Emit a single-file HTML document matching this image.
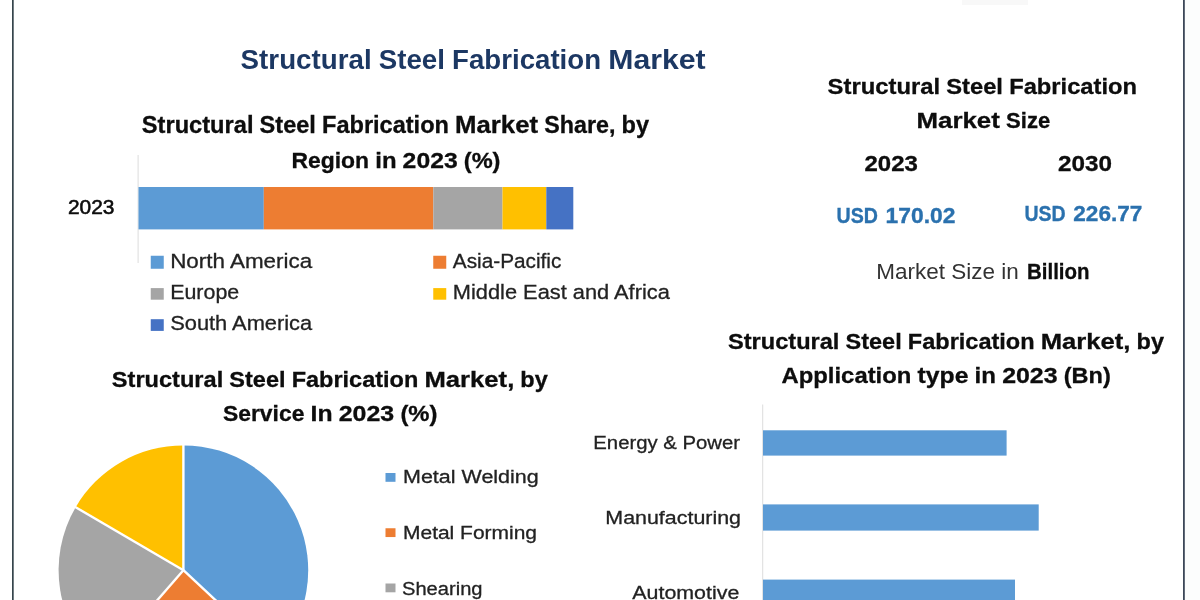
<!DOCTYPE html>
<html>
<head>
<meta charset="utf-8">
<title>Structural Steel Fabrication Market</title>
<style>
html,body{margin:0;padding:0;background:#ffffff;}
body{width:1200px;height:600px;overflow:hidden;position:relative;font-family:"Liberation Sans",sans-serif;}
svg{position:absolute;left:0;top:0;display:block;}
text{font-family:"Liberation Sans",sans-serif;}
.b{font-weight:bold;}
.k{fill:#0a0a0a;}
.b.k{stroke:#0a0a0a;stroke-width:0.3px;}
.u{fill:#2b71ae;stroke:#2b71ae;stroke-width:0.35px;}
.lg{fill:#222222;stroke:#222222;stroke-width:0.3px;}
</style>
</head>
<body>
<svg width="1200" height="600" viewBox="0 0 1200 600">
  <defs><filter id="soft" x="-2%" y="-2%" width="104%" height="104%"><feGaussianBlur stdDeviation="0.45"/></filter></defs>
  <rect x="0" y="0" width="1200" height="600" fill="#ffffff"/>
  <g filter="url(#soft)">
  <rect x="-10" y="-10" width="1220" height="620" fill="#ffffff"/>
  <!-- right margin tint -->
  <rect x="1185" y="-10" width="25" height="620" fill="#fcfdfd"/>
  <rect x="962" y="-2" width="66" height="7" fill="#f6f6f6" opacity="0.8"/>
  <!-- frame lines -->

  <!-- main title -->
  <text class="b" fill="#1f3864" x="240.60" y="69.4" font-size="27.6" textLength="131.03" lengthAdjust="spacingAndGlyphs">Structural</text>
  <text class="b" fill="#1f3864" x="378.84" y="69.4" font-size="27.6" textLength="66.05" lengthAdjust="spacingAndGlyphs">Steel</text>
  <text class="b" fill="#1f3864" x="452.10" y="69.4" font-size="27.6" textLength="148.94" lengthAdjust="spacingAndGlyphs">Fabrication</text>
  <text class="b" fill="#1f3864" x="608.24" y="69.4" font-size="27.6" textLength="97.36" lengthAdjust="spacingAndGlyphs">Market</text>

  <!-- region chart title -->
  <text class="b k" x="141.80" y="133.2" font-size="23.2" textLength="111.66" lengthAdjust="spacingAndGlyphs">Structural</text>
  <text class="b k" x="259.61" y="133.2" font-size="23.2" textLength="56.28" lengthAdjust="spacingAndGlyphs">Steel</text>
  <text class="b k" x="322.03" y="133.2" font-size="23.2" textLength="126.92" lengthAdjust="spacingAndGlyphs">Fabrication</text>
  <text class="b k" x="455.10" y="133.2" font-size="23.2" textLength="82.97" lengthAdjust="spacingAndGlyphs">Market</text>
  <text class="b k" x="544.21" y="133.2" font-size="23.2" textLength="71.18" lengthAdjust="spacingAndGlyphs">Share,</text>
  <text class="b k" x="621.54" y="133.2" font-size="23.2" textLength="27.46" lengthAdjust="spacingAndGlyphs">by</text>
  <text class="b k" x="291.50" y="168.4" font-size="22.9" textLength="77.61" lengthAdjust="spacingAndGlyphs">Region</text>
  <text class="b k" x="375.25" y="168.4" font-size="22.9" textLength="21.24" lengthAdjust="spacingAndGlyphs">in</text>
  <text class="b k" x="402.63" y="168.4" font-size="22.9" textLength="55.02" lengthAdjust="spacingAndGlyphs">2023</text>
  <text class="b k" x="463.78" y="168.4" font-size="22.9" textLength="36.72" lengthAdjust="spacingAndGlyphs">(%)</text>

  <!-- region axis -->
  <rect x="137.6" y="155" width="1" height="108" fill="#dcdcdc"/>
  <text class="k" x="68" y="213.9" font-size="20" textLength="46.5" lengthAdjust="spacingAndGlyphs" stroke="#0d0d0d" stroke-width="0.55">2023</text>

  <!-- stacked bar -->
  <rect x="138.5" y="187" width="125.3" height="42.4" fill="#5b9bd5"/>
  <rect x="263.8" y="187" width="169.5" height="42.4" fill="#ed7d31"/>
  <rect x="433.3" y="187" width="69.2" height="42.4" fill="#a5a5a5"/>
  <rect x="502.5" y="187" width="43.8" height="42.4" fill="#ffc000"/>
  <rect x="546.3" y="187" width="27" height="42.4" fill="#4472c4"/>

  <!-- region legend -->
  <rect x="150.75" y="255.75" width="13" height="13" fill="#5b9bd5"/>
  <text class="lg" x="170.2" y="268.2" font-size="20.5" textLength="142" lengthAdjust="spacingAndGlyphs">North America</text>
  <rect x="150.75" y="288.1" width="13" height="11.6" fill="#a5a5a5"/>
  <text class="lg" x="170.2" y="299.4" font-size="20.5" textLength="69" lengthAdjust="spacingAndGlyphs">Europe</text>
  <rect x="150.75" y="319.2" width="13" height="11.7" fill="#4472c4"/>
  <text class="lg" x="170.2" y="330.3" font-size="20.5" textLength="142" lengthAdjust="spacingAndGlyphs">South America</text>
  <rect x="433.25" y="255.75" width="13" height="13" fill="#ed7d31"/>
  <text class="lg" x="452.8" y="268.2" font-size="20.5" textLength="108.6" lengthAdjust="spacingAndGlyphs">Asia-Pacific</text>
  <rect x="433.25" y="288.1" width="13" height="11.6" fill="#ffc000"/>
  <text class="lg" x="452.8" y="299.4" font-size="20.5" textLength="217" lengthAdjust="spacingAndGlyphs">Middle East and Africa</text>

  <!-- pie title -->
  <text class="b k" x="111.80" y="386.8" font-size="22.9" textLength="111.44" lengthAdjust="spacingAndGlyphs">Structural</text>
  <text class="b k" x="229.37" y="386.8" font-size="22.9" textLength="56.17" lengthAdjust="spacingAndGlyphs">Steel</text>
  <text class="b k" x="291.67" y="386.8" font-size="22.9" textLength="126.67" lengthAdjust="spacingAndGlyphs">Fabrication</text>
  <text class="b k" x="424.47" y="386.8" font-size="22.9" textLength="89.79" lengthAdjust="spacingAndGlyphs">Market,</text>
  <text class="b k" x="520.39" y="386.8" font-size="22.9" textLength="27.41" lengthAdjust="spacingAndGlyphs">by</text>
  <text class="b k" x="223.00" y="421.0" font-size="22.9" textLength="81.35" lengthAdjust="spacingAndGlyphs">Service</text>
  <text class="b k" x="310.54" y="421.0" font-size="22.9" textLength="22.01" lengthAdjust="spacingAndGlyphs">In</text>
  <text class="b k" x="338.74" y="421.0" font-size="22.9" textLength="55.52" lengthAdjust="spacingAndGlyphs">2023</text>
  <text class="b k" x="400.45" y="421.0" font-size="22.9" textLength="37.05" lengthAdjust="spacingAndGlyphs">(%)</text>

  <!-- pie -->
  <g id="pie">
    <path d="M183.40,570.20 L183.40,445.40 A124.80,124.80 0 0 1 274.67,655.31 Z" fill="#5b9bd5"/>
    <path d="M183.40,570.20 L274.67,655.31 A124.80,124.80 0 0 1 101.52,664.39 Z" fill="#ed7d31"/>
    <path d="M183.40,570.20 L101.52,664.39 A124.80,124.80 0 0 1 75.65,507.23 Z" fill="#a5a5a5"/>
    <path d="M183.40,570.20 L75.65,507.23 A124.80,124.80 0 0 1 183.40,445.40 Z" fill="#ffc000"/>
    <g stroke="#ffffff" stroke-width="2.4">
      <line x1="183.40" y1="570.20" x2="183.40" y2="443.90"/>
      <line x1="183.40" y1="570.20" x2="275.77" y2="656.34"/>
      <line x1="183.40" y1="570.20" x2="100.54" y2="665.52"/>
      <line x1="183.40" y1="570.20" x2="74.35" y2="506.48"/>
    </g>
  </g>

  <!-- pie legend -->
  <rect x="385.5" y="473" width="10" height="8.8" fill="#5b9bd5"/>
  <text class="lg" x="403" y="483" font-size="18.8" textLength="135.75" lengthAdjust="spacingAndGlyphs">Metal Welding</text>
  <rect x="385.5" y="528.25" width="10" height="8.8" fill="#ed7d31"/>
  <text class="lg" x="403" y="539.25" font-size="18.8" textLength="134" lengthAdjust="spacingAndGlyphs">Metal Forming</text>
  <rect x="385.5" y="583.5" width="10" height="8.8" fill="#a5a5a5"/>
  <text class="lg" x="402" y="594.5" font-size="18.8" textLength="80.5" lengthAdjust="spacingAndGlyphs">Shearing</text>

  <!-- market size -->
  <text class="b k" x="827.60" y="93.7" font-size="22.9" textLength="112.48" lengthAdjust="spacingAndGlyphs">Structural</text>
  <text class="b k" x="946.27" y="93.7" font-size="22.9" textLength="56.69" lengthAdjust="spacingAndGlyphs">Steel</text>
  <text class="b k" x="1009.15" y="93.7" font-size="22.9" textLength="127.85" lengthAdjust="spacingAndGlyphs">Fabrication</text>
  <text class="b k" x="916.50" y="128.3" font-size="22.9" textLength="83.37" lengthAdjust="spacingAndGlyphs">Market</text>
  <text class="b k" x="1006.04" y="128.3" font-size="22.9" textLength="44.16" lengthAdjust="spacingAndGlyphs">Size</text>
  <text class="b k" x="864.5" y="171.3" font-size="22.3" textLength="53.4" lengthAdjust="spacingAndGlyphs">2023</text>
  <text class="b k" x="1057.9" y="171.3" font-size="22.3" textLength="54" lengthAdjust="spacingAndGlyphs">2030</text>
  <text class="b u" x="836.6" y="222.6" font-size="22.2" textLength="41.4" lengthAdjust="spacingAndGlyphs">USD</text>
  <text class="b u" x="885.6" y="222.6" font-size="22.2" textLength="69.8" lengthAdjust="spacingAndGlyphs">170.02</text>
  <text class="b u" x="1024.4" y="220.5" font-size="22.2" textLength="41.2" lengthAdjust="spacingAndGlyphs">USD</text>
  <text class="b u" x="1073.3" y="220.5" font-size="22.2" textLength="69.1" lengthAdjust="spacingAndGlyphs">226.77</text>
  <text x="876.2" y="278.9" font-size="21.9" fill="#333333" textLength="142.5" lengthAdjust="spacingAndGlyphs">Market Size in</text>
  <text class="b k" x="1027" y="278.9" font-size="21.9" textLength="62.5" lengthAdjust="spacingAndGlyphs">Billion</text>

  <!-- bar chart title -->
  <text class="b k" x="728.00" y="349.2" font-size="22.8" textLength="111.44" lengthAdjust="spacingAndGlyphs">Structural</text>
  <text class="b k" x="845.57" y="349.2" font-size="22.8" textLength="56.17" lengthAdjust="spacingAndGlyphs">Steel</text>
  <text class="b k" x="907.87" y="349.2" font-size="22.8" textLength="126.67" lengthAdjust="spacingAndGlyphs">Fabrication</text>
  <text class="b k" x="1040.67" y="349.2" font-size="22.8" textLength="89.79" lengthAdjust="spacingAndGlyphs">Market,</text>
  <text class="b k" x="1136.59" y="349.2" font-size="22.8" textLength="27.41" lengthAdjust="spacingAndGlyphs">by</text>
  <text class="b k" x="781.50" y="383.3" font-size="22.8" textLength="129.86" lengthAdjust="spacingAndGlyphs">Application</text>
  <text class="b k" x="917.54" y="383.3" font-size="22.8" textLength="50.86" lengthAdjust="spacingAndGlyphs">type</text>
  <text class="b k" x="974.58" y="383.3" font-size="22.8" textLength="21.39" lengthAdjust="spacingAndGlyphs">in</text>
  <text class="b k" x="1002.16" y="383.3" font-size="22.8" textLength="55.41" lengthAdjust="spacingAndGlyphs">2023</text>
  <text class="b k" x="1063.75" y="383.3" font-size="22.8" textLength="47.05" lengthAdjust="spacingAndGlyphs">(Bn)</text>

  <!-- bar chart -->
  <rect x="762.2" y="404.5" width="1" height="206" fill="#dcdcdc"/>
  <rect x="763" y="430.3" width="243.6" height="25.3" fill="#5b9bd5"/>
  <rect x="763" y="504.4" width="275.7" height="26.2" fill="#5b9bd5"/>
  <rect x="763" y="579.6" width="252" height="25" fill="#5b9bd5"/>
  <text class="lg" x="593.3" y="448.6" font-size="19.1" textLength="146.7" lengthAdjust="spacingAndGlyphs">Energy &amp; Power</text>
  <text class="lg" x="605.3" y="524" font-size="19.1" textLength="135.7" lengthAdjust="spacingAndGlyphs">Manufacturing</text>
  <text class="lg" x="632.3" y="599" font-size="19.1" textLength="107" lengthAdjust="spacingAndGlyphs">Automotive</text>
  </g>
  <!-- frame lines -->
  <rect x="12" y="-10" width="1.7" height="620" fill="#36454c"/>
  <rect x="1183" y="-10" width="1.8" height="620" fill="#3c4859"/>
</svg>
</body>
</html>
